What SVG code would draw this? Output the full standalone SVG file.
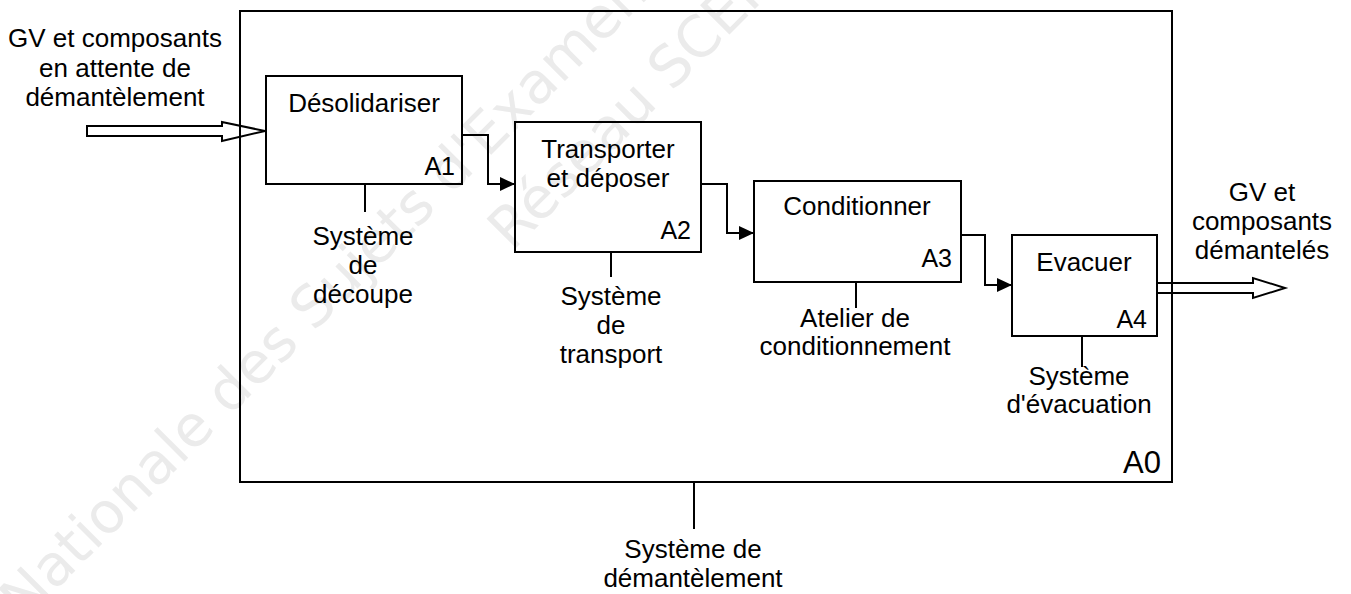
<svg xmlns="http://www.w3.org/2000/svg" width="1351" height="594" viewBox="0 0 1351 594">
<style>
.box{fill:none;stroke:#000;stroke-width:2}
.ln{fill:none;stroke:#000;stroke-width:2}
.t{font-family:"Liberation Sans",Arial,sans-serif;font-size:26px;fill:#000;text-anchor:middle}
.lbl{font-family:"Liberation Sans",Arial,sans-serif;font-size:25px;fill:#000;text-anchor:end}
.wm{font-family:"DejaVu Sans",sans-serif;font-size:57px;fill:#ebebeb}
</style>
<defs>
<marker id="ah" viewBox="0 0 15 14" refX="15" refY="7" markerWidth="15" markerHeight="14" markerUnits="userSpaceOnUse" orient="auto">
<path d="M0,0 L15,7 L0,14 Z" fill="#000"/>
</marker>
</defs>
<rect width="1351" height="594" fill="#fff"/>
<g id="watermark">
<text class="wm" transform="translate(24,622) rotate(-45)">Nationale des Sujets d'Examens</text>
<text class="wm" transform="translate(512,252) rotate(-45)">Réseau SCEREN</text>
</g>
<g id="A0">
<rect class="box" x="240" y="11" width="932" height="471"/>
<text class="lbl" x="1161" y="473" style="font-size:31px">A0</text>
</g>
<g id="A1">
<rect class="box" x="266" y="76" width="196" height="108"/>
<text class="t" x="364" y="112">Désolidariser</text>
<text class="lbl" x="455" y="175">A1</text>
</g>
<g id="A2">
<rect class="box" x="515" y="122" width="186" height="130"/>
<text class="t" x="608" y="158">Transporter</text>
<text class="t" x="608" y="187">et déposer</text>
<text class="lbl" x="691" y="239">A2</text>
</g>
<g id="A3">
<rect class="box" x="754" y="181" width="207" height="101"/>
<text class="t" x="857" y="215">Conditionner</text>
<text class="lbl" x="952" y="267">A3</text>
</g>
<g id="A4">
<rect class="box" x="1012" y="235" width="145" height="101"/>
<text class="t" x="1084" y="271">Evacuer</text>
<text class="lbl" x="1147" y="328">A4</text>
</g>
<g id="labels">
<text class="t" x="115" y="47">GV et composants</text>
<text class="t" x="115" y="77">en attente de</text>
<text class="t" x="115" y="106">démantèlement</text>
<text class="t" x="363" y="245">Système</text>
<text class="t" x="363" y="274">de</text>
<text class="t" x="363" y="303">découpe</text>
<text class="t" x="611" y="305">Système</text>
<text class="t" x="611" y="334">de</text>
<text class="t" x="611" y="363">transport</text>
<text class="t" x="855" y="327">Atelier de</text>
<text class="t" x="855" y="355">conditionnement</text>
<text class="t" x="1079" y="385">Système</text>
<text class="t" x="1079" y="413">d'évacuation</text>
<text class="t" x="1262" y="201">GV et</text>
<text class="t" x="1262" y="230">composants</text>
<text class="t" x="1262" y="259">démantelés</text>
<text class="t" x="693" y="558">Système de</text>
<text class="t" x="693" y="587">démantèlement</text>
</g>
<g id="connectors">
<polygon class="ln" points="87,126 222,126 222,122 265,131 222,141 222,136 87,136"/>
<polygon class="ln" points="1157,283 1253,283 1253,278 1285,288 1253,298 1253,293 1157,293"/>
<path class="ln" d="M462,135 H488 V184 H515" marker-end="url(#ah)"/>
<path class="ln" d="M701,184 H727 V233 H754" marker-end="url(#ah)"/>
<path class="ln" d="M961,235 H985 V285 H1012" marker-end="url(#ah)"/>
<path class="ln" d="M365,184 V212"/>
<path class="ln" d="M611,252 V277"/>
<path class="ln" d="M856,282 V308"/>
<path class="ln" d="M1082,336 V367"/>
<path class="ln" d="M694,482 V529"/>
</g>
</svg>
